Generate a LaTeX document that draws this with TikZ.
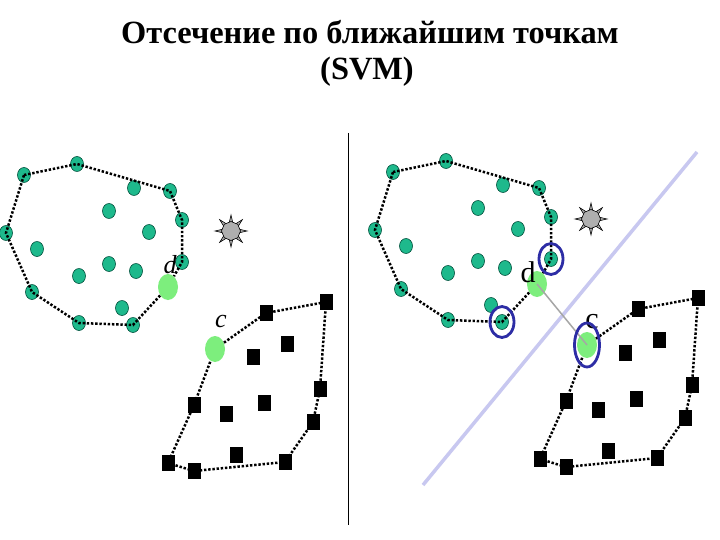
\documentclass[tikz,border=0pt]{standalone}
\usepackage{fontspec}
\setmainfont{Liberation Serif}
\usetikzlibrary{shapes.geometric}
\definecolor{teal1}{RGB}{30,185,140}
\definecolor{tealdark}{RGB}{0,80,60}
\definecolor{lgreen}{RGB}{125,238,125}
\definecolor{svmblue}{RGB}{45,45,165}
\definecolor{lav}{RGB}{200,200,240}
\definecolor{stargray}{RGB}{175,175,175}
\tikzset{
  tpt/.style={ellipse, draw=tealdark, fill=teal1, line width=0.6pt, minimum width=13pt, minimum height=15pt, inner sep=0pt},
  bsq/.style={rectangle, fill=black, minimum width=13pt, minimum height=16pt, inner sep=0pt},
  gpt/.style={ellipse, fill=lgreen, minimum width=20pt, minimum height=26pt, inner sep=0pt},
  hull/.style={line width=2.5pt, dash pattern=on 2.4pt off 1.8pt},
  svring/.style={ellipse, draw=svmblue, line width=2.8pt, inner sep=0pt},
  lblL/.style={font=\fontsize{26}{26}\selectfont\itshape, inner sep=0pt},
  lblR/.style={font=\fontsize{30}{30}\selectfont, inner sep=0pt},
  titlef/.style={font=\fontsize{32.4}{36}\selectfont\bfseries, inner sep=0pt},
  spike/.style={fill=stargray, draw=black, line width=0.6pt},
  circles/.pic={
    \node[tpt] (h1) at (24,175) {};
    \node[tpt] (h2) at (77,164) {};
    \node[tpt] (h3) at (170,191) {};
    \node[tpt] (h4) at (182,220) {};
    \node[tpt] (h5) at (182,262) {};
    \node[gpt] (d) at (168,287) {};
    \node[tpt] (h6) at (133,325) {};
    \node[tpt] (h7) at (79,323) {};
    \node[tpt] (h8) at (32,292) {};
    \node[tpt] (h9) at (6,233) {};
    \node[tpt] (i1) at (134,188) {};
    \node[tpt] (i2) at (109,211) {};
    \node[tpt] (i3) at (149,232) {};
    \node[tpt] (i4) at (37,249) {};
    \node[tpt] (i5) at (109,264) {};
    \node[tpt] (i6) at (136,271) {};
    \node[tpt] (i7) at (79,276) {};
    \node[tpt] (i8) at (122,308) {};
    \draw[hull] (h1.center) -- (h2.center) -- (h3.center) -- (h4.center) -- (h5.center) -- (d)
      -- (h6.center) -- (h7.center) -- (h8.center) -- (h9.center) -- (h1.center);
  },
  squares/.pic={
    \node[gpt] (c) at (215,349) {};
    \node[bsq] (s1) at (266,313) {};
    \node[bsq] (s2) at (326,302) {};
    \node[bsq] (s3) at (320,389) {};
    \node[bsq] (s4) at (313,422) {};
    \node[bsq] (s5) at (285,462) {};
    \node[bsq] (s6) at (194,471) {};
    \node[bsq] (s7) at (168,463) {};
    \node[bsq] (s8) at (194,405) {};
    \node[bsq] (q1) at (287,344) {};
    \node[bsq] (q2) at (253,357) {};
    \node[bsq] (q3) at (226,414) {};
    \node[bsq] (q4) at (264,403) {};
    \node[bsq] (q5) at (236,455) {};
    \draw[hull] (c) -- (s1.center) -- (s2.center) -- (s3.center) -- (s4.center) -- (s5.center)
      -- (s6.center) -- (s7.center) -- (s8.center) -- (c);
  },
  starpic/.pic={
    \foreach \a in {0,45,...,315}{
      \draw[spike] (\a-14:8) -- (\a:16) -- (\a+14:8) -- cycle;
    }
    \node[regular polygon, regular polygon sides=8, shape border rotate=22.5, fill=stargray, draw=black,
      line width=0.6pt, minimum size=19pt, inner sep=0pt] (core) at (0,0) {};
  }
}
\begin{document}
\begin{tikzpicture}[x=1pt, y=-1pt]
\useasboundingbox (0,0) rectangle (720,540);
\fill[white] (0,0) rectangle (720,540);
% title
\node[titlef] (t1) at (370,32) {Отсечение по ближайшим точкам};
\node[titlef] (t2) at (367,72) {(SVM)};
% divider
\coordinate (vt) at (348,133);
\coordinate (vb) at (348,525);
\draw[line width=1pt] (vt) -- (vb);
% separating line
\coordinate (sepA) at (423,485);
\coordinate (sepB) at (697,152);
\draw[lav, line width=3.5pt] (sepA) -- (sepB);
% left panel
\pic (L) at (0,0) {circles};
\pic (L) at (0,0) {squares};
\pic (LS) at (231,231) {starpic};
\node[lblL] (Ldl) at (170,265) {d};
\node[lblL] (Lcl) at (221,322) {c};
% right panel
\pic (R) at (369,-3) {circles};
\pic (R) at (372,-4) {squares};
\pic (RS) at (591,219) {starpic};
\node[lblR] (Rdl) at (528,272) {d};
\node[lblR] (Rcl) at (592,322) {c};
\draw[gray!70, line width=1.5pt] (Rd.center) -- (Rc.center);
\node[svring, minimum width=24pt, minimum height=31pt] (B1) at (Rh5) {};
\node[svring, minimum width=24pt, minimum height=31pt] (B2) at (Rh6) {};
\node[svring, minimum width=25pt, minimum height=44pt] (B3) at (Rc) {};
\end{tikzpicture}
\end{document}
